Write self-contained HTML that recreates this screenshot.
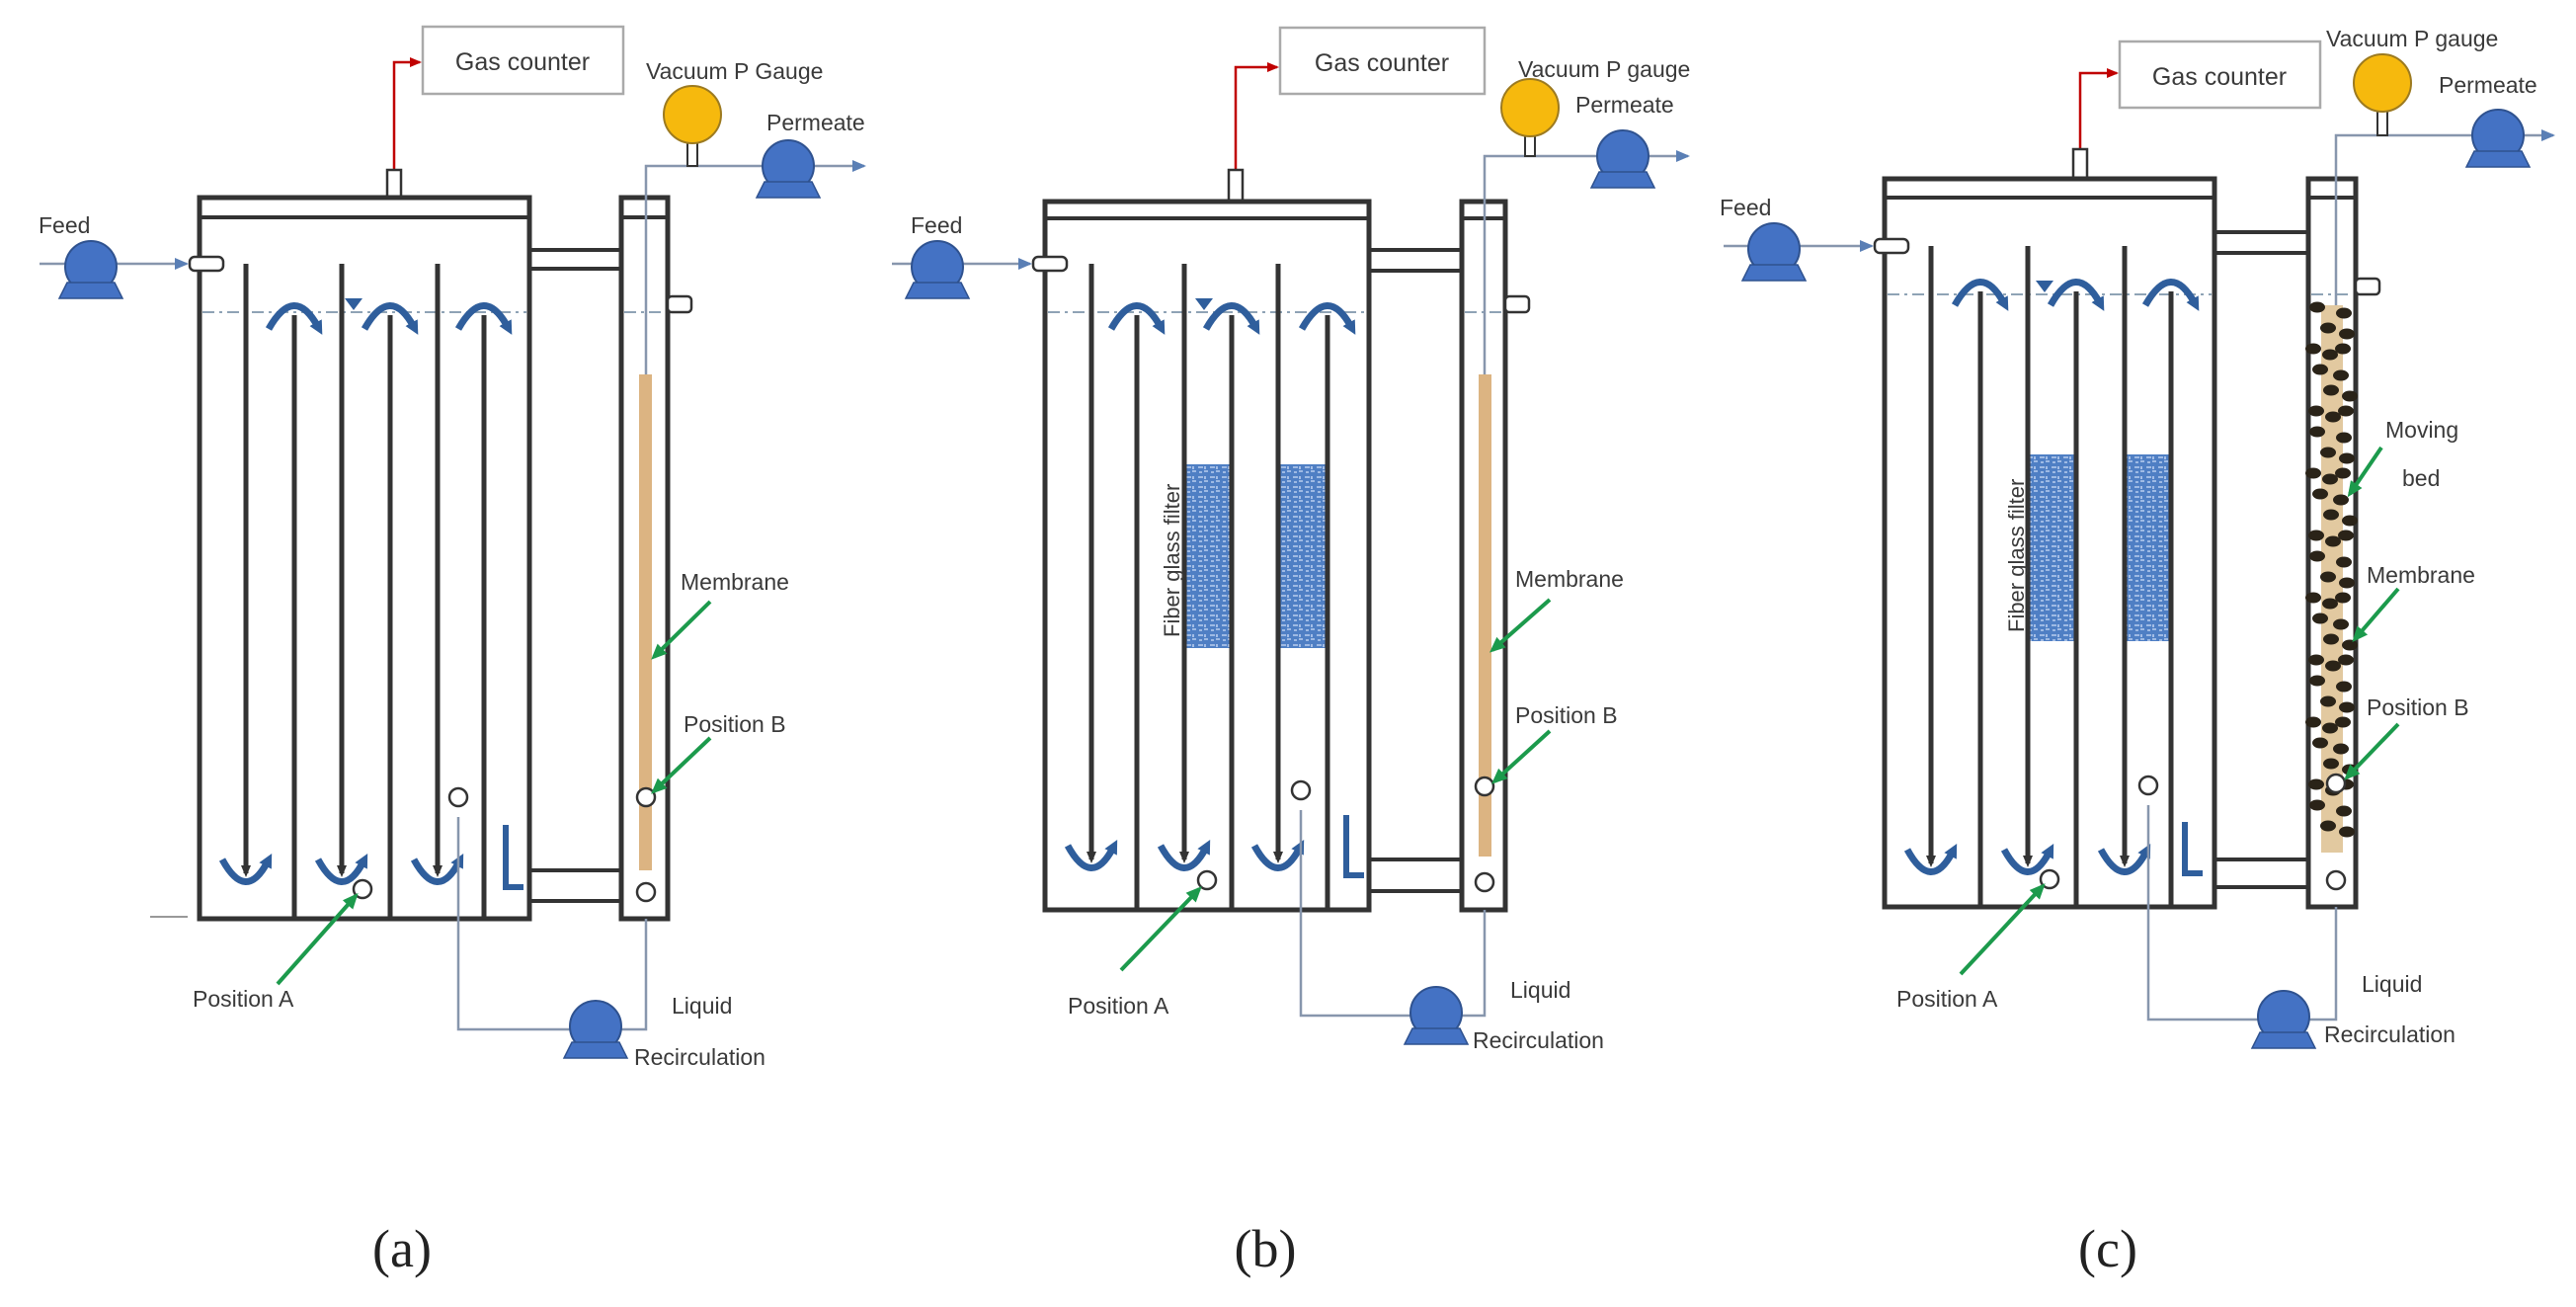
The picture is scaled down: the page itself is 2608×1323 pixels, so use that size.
<!DOCTYPE html>
<html><head><meta charset="utf-8"><style>
html,body{margin:0;padding:0;background:#fff;}
svg{display:block;}
text{font-family:"Liberation Sans",sans-serif;fill:#3a3a3a;}
.lb{font-size:23px;}
.pl{font-family:"Liberation Serif",serif;font-size:54px;fill:#222;}
</style></head><body>
<svg id="s" width="2608" height="1323" viewBox="0 0 2608 1323" xmlns="http://www.w3.org/2000/svg">
<defs>
<marker id="mb" markerWidth="14" markerHeight="14" refX="5" refY="7" orient="auto" markerUnits="userSpaceOnUse"><path d="M0,0 L14,7 L0,14 z" fill="#2f5e9c"/></marker>
<marker id="md" markerWidth="12" markerHeight="12" refX="8" refY="6" orient="auto" markerUnits="userSpaceOnUse"><path d="M0,1 L12,6 L0,11 z" fill="#333"/></marker>
<marker id="mg" markerWidth="16" markerHeight="14" refX="12" refY="7" orient="auto" markerUnits="userSpaceOnUse"><path d="M0,0 L16,7 L0,14 z" fill="#1c9a4c"/></marker>
<marker id="mr" markerWidth="12" markerHeight="10" refX="10" refY="5" orient="auto" markerUnits="userSpaceOnUse"><path d="M0,0 L12,5 L0,10 z" fill="#c00000"/></marker>
<marker id="ml" markerWidth="14" markerHeight="12" refX="12" refY="6" orient="auto" markerUnits="userSpaceOnUse"><path d="M0,0 L14,6 L0,12 z" fill="#5a7fb5"/></marker>
<pattern id="fp" width="12" height="10" patternUnits="userSpaceOnUse">
<rect width="12" height="10" fill="#4f7fc4"/>
<path d="M1,3 h5 M7,7 h4 M2,8 h3 M8,2 v3" stroke="#b9cdee" stroke-width="1.6"/>
</pattern>
<g id="pump"><circle cx="0" cy="0" r="26" fill="#4472c4" stroke="#2f528f" stroke-width="2"/><path d="M-32,32 L32,32 L24,16 L-24,16 z" fill="#4472c4" stroke="#2f528f" stroke-width="1.5"/></g>
</defs>
<g id="shapes"></g>

<text x="529" y="71" class="lb" text-anchor="middle" style="font-size:25px">Gas counter</text>
<text x="654" y="80" class="lb">Vacuum P Gauge</text>
<text x="776" y="132" class="lb">Permeate</text>
<text x="39" y="236" class="lb">Feed</text>
<text x="689" y="597" class="lb">Membrane</text>
<text x="692" y="741" class="lb">Position B</text>
<text x="195" y="1019" class="lb">Position A</text>
<text x="680" y="1026" class="lb">Liquid</text>
<text x="642" y="1078" class="lb">Recirculation</text>
<text x="407" y="1282" class="pl" text-anchor="middle">(a)</text>

<text x="1399" y="72" class="lb" text-anchor="middle" style="font-size:25px">Gas counter</text>
<text x="1537" y="78" class="lb">Vacuum P gauge</text>
<text x="1595" y="114" class="lb">Permeate</text>
<text x="922" y="236" class="lb">Feed</text>
<text x="1534" y="594" class="lb">Membrane</text>
<text x="1534" y="732" class="lb">Position B</text>
<text x="1081" y="1026" class="lb">Position A</text>
<text x="1529" y="1010" class="lb">Liquid</text>
<text x="1491" y="1061" class="lb">Recirculation</text>
<text transform="translate(1194,645) rotate(-90)" style="font-size:22px">Fiber glass filter</text>
<text x="1281" y="1282" class="pl" text-anchor="middle">(b)</text>

<text x="2247" y="86" class="lb" text-anchor="middle" style="font-size:25px">Gas counter</text>
<text x="2355" y="47" class="lb">Vacuum P gauge</text>
<text x="2469" y="94" class="lb">Permeate</text>
<text x="1741" y="218" class="lb">Feed</text>
<text x="2415" y="443" class="lb">Moving</text>
<text x="2432" y="492" class="lb">bed</text>
<text x="2396" y="590" class="lb">Membrane</text>
<text x="2396" y="724" class="lb">Position B</text>
<text x="1920" y="1019" class="lb">Position A</text>
<text x="2391" y="1004" class="lb">Liquid</text>
<text x="2353" y="1055" class="lb">Recirculation</text>
<text transform="translate(2049,640) rotate(-90)" style="font-size:22px">Fiber glass filter</text>
<text x="2134" y="1282" class="pl" text-anchor="middle">(c)</text>
</svg>
<script>
var NS="http://www.w3.org/2000/svg",G=document.getElementById("shapes");
function el(t,a){var e=document.createElementNS(NS,t);for(var k in a)e.setAttribute(k,a[k]);G.appendChild(e);return e;}
function ln(x1,y1,x2,y2,c,w,m,d){var a={x1:x1,y1:y1,x2:x2,y2:y2,stroke:c,"stroke-width":w};if(m)a["marker-end"]="url(#"+m+")";if(d)a["stroke-dasharray"]=d;return el("line",a);}
function pl(pts,c,w,m){var a={points:pts,fill:"none",stroke:c,"stroke-width":w};if(m)a["marker-end"]="url(#"+m+")";return el("polyline",a);}
function pump(x,y){el("use",{href:"#pump",x:x,y:y});}
function circ(x,y,r){el("circle",{cx:x,cy:y,r:r||9,fill:"#fff",stroke:"#333","stroke-width":2.5});}
function panel(P){
 var L="#8796ad";
 el("rect",{x:P.gx,y:P.gy,width:P.gw,height:P.gh,fill:"#fff",stroke:"#aaa","stroke-width":2.5});
 pl(P.nx+","+P.nt+" "+P.nx+","+P.ry+" "+(P.gx-3)+","+P.ry,"#c00000",2.5,"mr");
 el("rect",{x:P.nx-7,y:P.nt,width:14,height:P.ty-P.nt,fill:"#fff",stroke:"#333","stroke-width":2.5});
 [P.c1,P.c2,P.c3,P.c4].forEach(function(y){ln(P.tx2,y,P.cx1,y,"#333",4);});
 el("rect",{x:P.tx1,y:P.ty,width:P.tx2-P.tx1,height:P.tb-P.ty,fill:"none",stroke:"#333","stroke-width":5});
 ln(P.tx1,P.lid,P.tx2,P.lid,"#333",4);
 el("rect",{x:P.cx1,y:P.ty,width:P.cx2-P.cx1,height:P.tb-P.ty,fill:"#fff",stroke:"#333","stroke-width":5});
 ln(P.cx1,P.lid,P.cx2,P.lid,"#333",4);
 el("rect",{x:P.mx,y:P.mt,width:P.mw,height:P.mb-P.mt,fill:P.mc||"#dcb482"});
 if(P.f){P.f.forEach(function(f){el("rect",{x:f[0],y:f[1],width:f[2]-f[0],height:f[3]-f[1],fill:"url(#fp)"});});}
 if(P.dots){for(var y=P.mt+2;y<P.mb-20;y+=21){var k=Math.round((y-P.mt)/21);var xs=(k%3==0)?[P.cx1+12,P.cx1+34]:(k%3==1)?[P.cx1+22,P.cx2-6]:[P.cx1+6,P.cx1+24,P.cx2-10];
  xs.forEach(function(x,i){el("ellipse",{cx:x+((k*7+i*5)%6)-3,cy:y+(i%2)*6,rx:8,ry:5.5,fill:"#2a2318"});});}}
 ln(P.tx1+3,P.w,P.tx2-3,P.w,"#8fa3b5",2,null,"12 5 3 5");
 ln(P.cx1+3,P.w,P.cx2-3,P.w,"#8fa3b5",2,null,"12 5 3 5");
 el("path",{d:"M"+(P.wt-9)+","+(P.w-14)+" l18,0 l-9,12 z",fill:"#2f5e9c"});
 P.d.forEach(function(x){ln(x,P.dt,x,P.db,"#333",5,"md");
   el("path",{d:"M"+(x-24)+","+(P.db-14)+" Q"+x+","+(P.db+30)+" "+(x+22)+","+(P.db-12),fill:"none",stroke:"#2f5e9c","stroke-width":7,"marker-end":"url(#mb)"});});
 P.r.forEach(function(x){ln(x,P.rt,x,P.tb,"#333",5);
   el("path",{d:"M"+(x-26)+","+(P.rt+14)+" Q"+x+","+(P.rt-32)+" "+(x+24)+","+(P.rt+12),fill:"none",stroke:"#2f5e9c","stroke-width":7,"marker-end":"url(#mb)"});});
 el("path",{d:"M"+P.Lx+","+P.Lt+" L"+P.Lx+","+P.Lb+" L"+(P.Lx+18)+","+P.Lb,fill:"none",stroke:"#2f5e9c","stroke-width":6});
 ln(P.fx0,P.fy,P.fn-3,P.fy,L,2.5,"ml");
 el("rect",{x:P.fn,y:P.fy-7,width:34,height:14,rx:5,fill:"#fff",stroke:"#333","stroke-width":2.5});
 pump(P.fpx,P.fy+3);
 el("rect",{x:P.cx2,y:P.w-16,width:24,height:16,rx:4,fill:"#fff",stroke:"#333","stroke-width":2.5});
 pl(P.vx+","+P.mt+" "+P.vx+","+P.py+" "+P.pe+","+P.py,L,2.5,"ml");
 el("rect",{x:P.gax-5,y:P.gay+26,width:10,height:P.py-P.gay-26,fill:"#fff",stroke:"#333","stroke-width":2});
 el("circle",{cx:P.gax,cy:P.gay,r:29,fill:"#f6b90d",stroke:"#9c7a20","stroke-width":2});
 pump(P.ppx,P.py);
 pl(P.rx+","+(P.rcy+20)+" "+P.rx+","+P.ry2+" "+P.vx+","+P.ry2+" "+P.vx+","+P.tb,L,2.5);
 pump(P.rpx,P.ry2-3);
 circ(P.rx,P.rcy);
 circ(P.vx,P.pby);circ(P.vx,P.bby);circ(P.ax,P.ay);
 P.g.forEach(function(a){ln(a[0],a[1],a[2],a[3],"#1c9a4c",4,"mg");});
}
panel({gx:428,gy:27,gw:203,gh:68,nx:399,nt:172,ry:63,tx1:202,tx2:536,ty:200,tb:930,lid:220,cx1:629,cx2:676,
 c1:253,c2:272,c3:881,c4:912,mx:647,mw:13,mt:379,mb:881,w:316,wt:358,
 d:[249,346,443],dt:267,db:884,r:[298,395,490],rt:319,Lx:512,Lt:835,Lb:898,
 fx0:40,fy:267,fn:192,fpx:92,vx:654,py:168,pe:875,gax:701,gay:116,ppx:798,
 rx:464,rcy:807,ry2:1042,rpx:603,pby:807,bby:903,ax:367,ay:900,
 g:[[719,609,662,665],[719,747,662,801],[281,996,360,907]]});
panel({gx:1296,gy:28,gw:207,gh:67,nx:1251,nt:172,ry:68,tx1:1058,tx2:1386,ty:204,tb:921,lid:221,cx1:1480,cx2:1524,
 c1:253,c2:274,c3:870,c4:902,mx:1497,mw:13,mt:379,mb:867,w:316,wt:1219,
 d:[1105,1199,1294],dt:267,db:870,r:[1151,1247,1344],rt:319,Lx:1363,Lt:825,Lb:886,
 fx0:903,fy:267,fn:1046,fpx:949,vx:1503,py:158,pe:1709,gax:1549,gay:109,ppx:1643,
 rx:1317,rcy:800,ry2:1028,rpx:1454,pby:796,bby:893,ax:1222,ay:891,
 f:[[1199,470,1247,656],[1294,470,1344,656]],
 g:[[1569,607,1511,658],[1569,740,1513,791],[1135,982,1214,900]]});
panel({gx:2146,gy:42,gw:203,gh:67,nx:2106,nt:151,ry:74,tx1:1908,tx2:2242,ty:181,tb:918,lid:200,cx1:2337,cx2:2385,
 c1:235,c2:256,c3:870,c4:898,mx:2350,mw:22,mt:309,mb:863,mc:"#e2c9a0",w:298,wt:2070,dots:1,
 d:[1955,2053,2151],dt:249,db:874,r:[2005,2102,2198],rt:295,Lx:2212,Lt:832,Lb:884,
 fx0:1745,fy:249,fn:1898,fpx:1796,vx:2365,py:137,pe:2585,gax:2412,gay:84,ppx:2529,
 rx:2175,rcy:795,ry2:1032,rpx:2312,pby:793,bby:891,ax:2075,ay:890,
 f:[[2053,460,2102,649],[2151,460,2198,649]],
 g:[[2411,453,2379,500],[2428,596,2384,647],[2428,733,2376,787],[1985,986,2068,897]]});
ln(152,928,190,928,"#999",2);
</script>
</body></html>
